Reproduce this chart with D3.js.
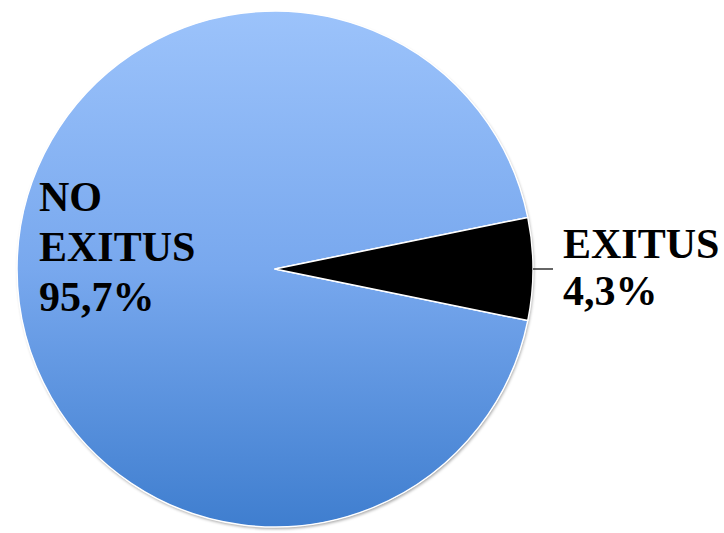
<!DOCTYPE html>
<html><head><meta charset="utf-8">
<script src="https://cdn.jsdelivr.net/npm/d3@7/dist/d3.min.js"></script>
<style>body{margin:0;background:#fff}svg{display:block}</style>
</head><body>
<script>
// Data
const categories = ["NO EXITUS", "EXITUS"];
const labelLines = [["NO", "EXITUS", "95,7%"], ["EXITUS", "4,3%"]];
const percentages = [95.7, 4.3];
// slice shares as drawn in the picture (the wedge appears ~23° wide)
const sliceShare = [93.6, 6.4];
const colors = ["url(#blueGrad)", "#000000"];

const W = 724, H = 533;
const cx = 275, cy = 269, r = 258;

const svg = d3.select("body").append("svg").attr("width", W).attr("height", H);
const defs = svg.append("defs");
const g1 = defs.append("linearGradient").attr("id", "blueGrad")
  .attr("gradientUnits", "userSpaceOnUse")
  .attr("x1", 0).attr("y1", -r).attr("x2", 0).attr("y2", r);
g1.append("stop").attr("offset", "0%").attr("stop-color", "#9cc3fb");
g1.append("stop").attr("offset", "50%").attr("stop-color", "#78a8ee");
g1.append("stop").attr("offset", "100%").attr("stop-color", "#3f7ecf");

const flt = defs.append("filter").attr("id", "shadow").attr("x", "-10%").attr("y", "-10%").attr("width", "120%").attr("height", "120%");
flt.append("feDropShadow").attr("dx", 1).attr("dy", 2).attr("stdDeviation", 1.5).attr("flood-color", "#000").attr("flood-opacity", 0.35);

const data = categories.map((c, i) => ({ cat: c, share: sliceShare[i], pct: percentages[i], i }));
const exitusHalf = Math.PI * 2 * sliceShare[1] / 100 / 2;
const pie = d3.pie().value(d => d.share).sort(null)
  .startAngle(Math.PI / 2 + exitusHalf)
  .endAngle(Math.PI / 2 + exitusHalf + Math.PI * 2);
const arc = d3.arc().innerRadius(0).outerRadius(r);

const g = svg.append("g").attr("transform", `translate(${cx},${cy})`);
g.append("circle").attr("r", r).attr("fill", "#fff").attr("filter", "url(#shadow)");
g.selectAll("path.slice").data(pie(data)).join("path")
  .attr("class", "slice")
  .attr("d", arc)
  .attr("fill", d => colors[d.data.i])
  .attr("stroke", "#fff").attr("stroke-width", 1.5).attr("stroke-linejoin", "round");

// leader line for EXITUS
g.append("line").attr("x1", r).attr("y1", 0).attr("x2", r + 20).attr("y2", 0)
  .attr("stroke", "#000").attr("stroke-width", 1.2);

const font = "'Liberation Serif','Times New Roman',serif";
const lblPos = [{ x: 39, y: 211 }, { x: 563, y: 258 }];
labelLines.forEach((lines, i) => {
  const t = svg.append("text").attr("font-family", font).attr("font-weight", "bold")
    .attr("font-size", 42).attr("fill", "#000");
  lines.forEach((ln, j) => {
    t.append("tspan").attr("x", lblPos[i].x).attr("y", lblPos[i].y + j * (i === 0 ? 50 : 47)).text(ln);
  });
});
</script>
</body></html>
